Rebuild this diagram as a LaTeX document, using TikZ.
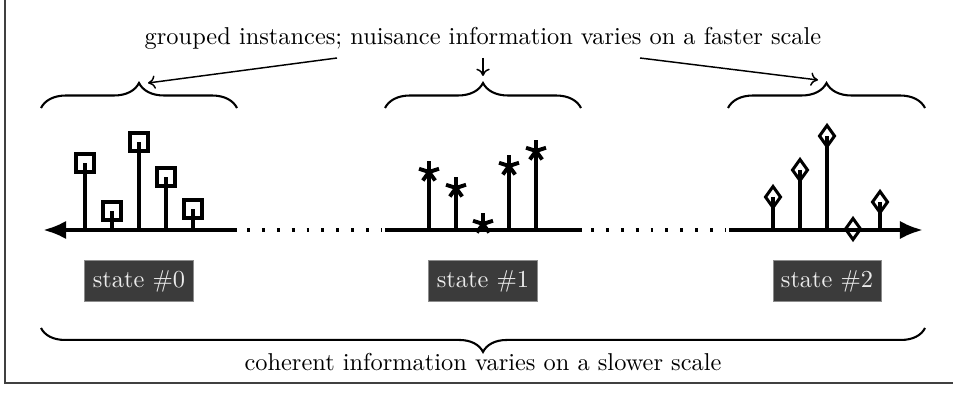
\documentclass[tikz,border=0pt]{standalone}
\usetikzlibrary{decorations.pathreplacing,arrows.meta,calc}
\begin{document}
\begin{tikzpicture}[x=0.41pt,y=-0.41pt,
  frameline/.style={draw=black!75, line width=0.45pt},
  bracestyle/.style={decorate, decoration={brace, amplitude=#1}, line width=0.85pt},
  axisline/.style={line width=1.7pt},
  dotline/.style={line width=1.3pt, dash pattern=on 1.2pt off 4.9pt},
  stemline/.style={line width=1.7pt},
  markline/.style={line width=1.25pt},
  starline/.style={line width=1.6pt},
  statebox/.style={fill=black!77, draw=black!45, line width=0.4pt, text=white!92!black, minimum width=44.3pt, minimum height=17.2pt, inner sep=0pt},
  pointer/.style={-{To[length=3pt,width=5.5pt]}, line width=0.6pt}
]
\useasboundingbox (0,0) rectangle (953,398);
% frame
\draw[frameline] (5,0) -- (5,383) -- (953,383);

% title and caption
\node[anchor=base] (title) at (483,45) {grouped instances; nuisance information varies on a faster scale};
\node[anchor=base] (caption) at (483,370) {coherent information varies on a slower scale};

% braces
\draw[bracestyle=10.25pt] (41,108) -- (237,108);
\draw[bracestyle=10.25pt] (385,108) -- (581,108);
\draw[bracestyle=10.25pt] (728,108) -- (925,108);
\draw[bracestyle=9.8pt] (925,328) -- (41,328);

% pointer arrows
\coordinate (p0s) at (337,58);
\coordinate (p0e) at (148,83);
\coordinate (p1s) at (483,58);
\coordinate (p1e) at (483,76);
\coordinate (p2s) at (640,58);
\coordinate (p2e) at (818,80);
\draw[pointer] (p0s) -- (p0e);
\draw[pointer] (p1s) -- (p1e);
\draw[pointer] (p2s) -- (p2e);

% axis segments
\coordinate (a0l) at (43,230);
\coordinate (a0r) at (237,230);
\coordinate (a1l) at (385,230);
\coordinate (a1r) at (582,230);
\coordinate (a2l) at (729,230);
\coordinate (a2r) at (923,230);
\draw[axisline, {Latex[length=9.5pt,width=7.6pt]}-] (a0l) -- (a0r);
\draw[axisline] (a1l) -- (a1r);
\draw[axisline, -{Latex[length=9.5pt,width=7.6pt]}] (a2l) -- (a2r);
\draw[dotline] (247,230) -- (382,230);
\draw[dotline] (591,230) -- (726,230);

% group 0: squares
\foreach \x/\y [count=\i] in {85/163,112/211,139/142,166/177,193/209}{
  \coordinate (s0b\i) at (\x,230);
  \coordinate (s0t\i) at (\x,\y);
  \draw[stemline] (s0b\i) -- (s0t\i);
  \draw[markline] ($(s0t\i)+(-9,-9)$) rectangle ($(s0t\i)+(9,9)$);
}

% group 1: stars
\foreach \x/\y [count=\i] in {429/172,456/188,483/224,509/166,536/151}{
  \coordinate (s1b\i) at (\x,230);
  \coordinate (s1t\i) at (\x,\y);
  \draw[stemline] (s1b\i) -- (s1t\i);
  \foreach \a in {90,162,234,306,18}{
    \draw[starline] (s1t\i) -- ++({-\a}:10.5);
  }
}

% group 2: diamonds
\foreach \x/\y [count=\i] in {773/197,800/170,827/136,853/229,880/202}{
  \coordinate (s2b\i) at (\x,230);
  \coordinate (s2t\i) at (\x,\y);
  \draw[stemline] (s2b\i) -- (s2t\i);
  \draw[markline] ($(s2t\i)+(0,-10.5)$) -- ($(s2t\i)+(7.5,0)$) -- ($(s2t\i)+(0,10.5)$) -- ($(s2t\i)+(-7.5,0)$) -- cycle;
}

% state boxes
\node[statebox] (st0) at (139,281) {state \#0};
\node[statebox] (st1) at (483,281) {state \#1};
\node[statebox] (st2) at (827,281) {state \#2};
\end{tikzpicture}
\end{document}
